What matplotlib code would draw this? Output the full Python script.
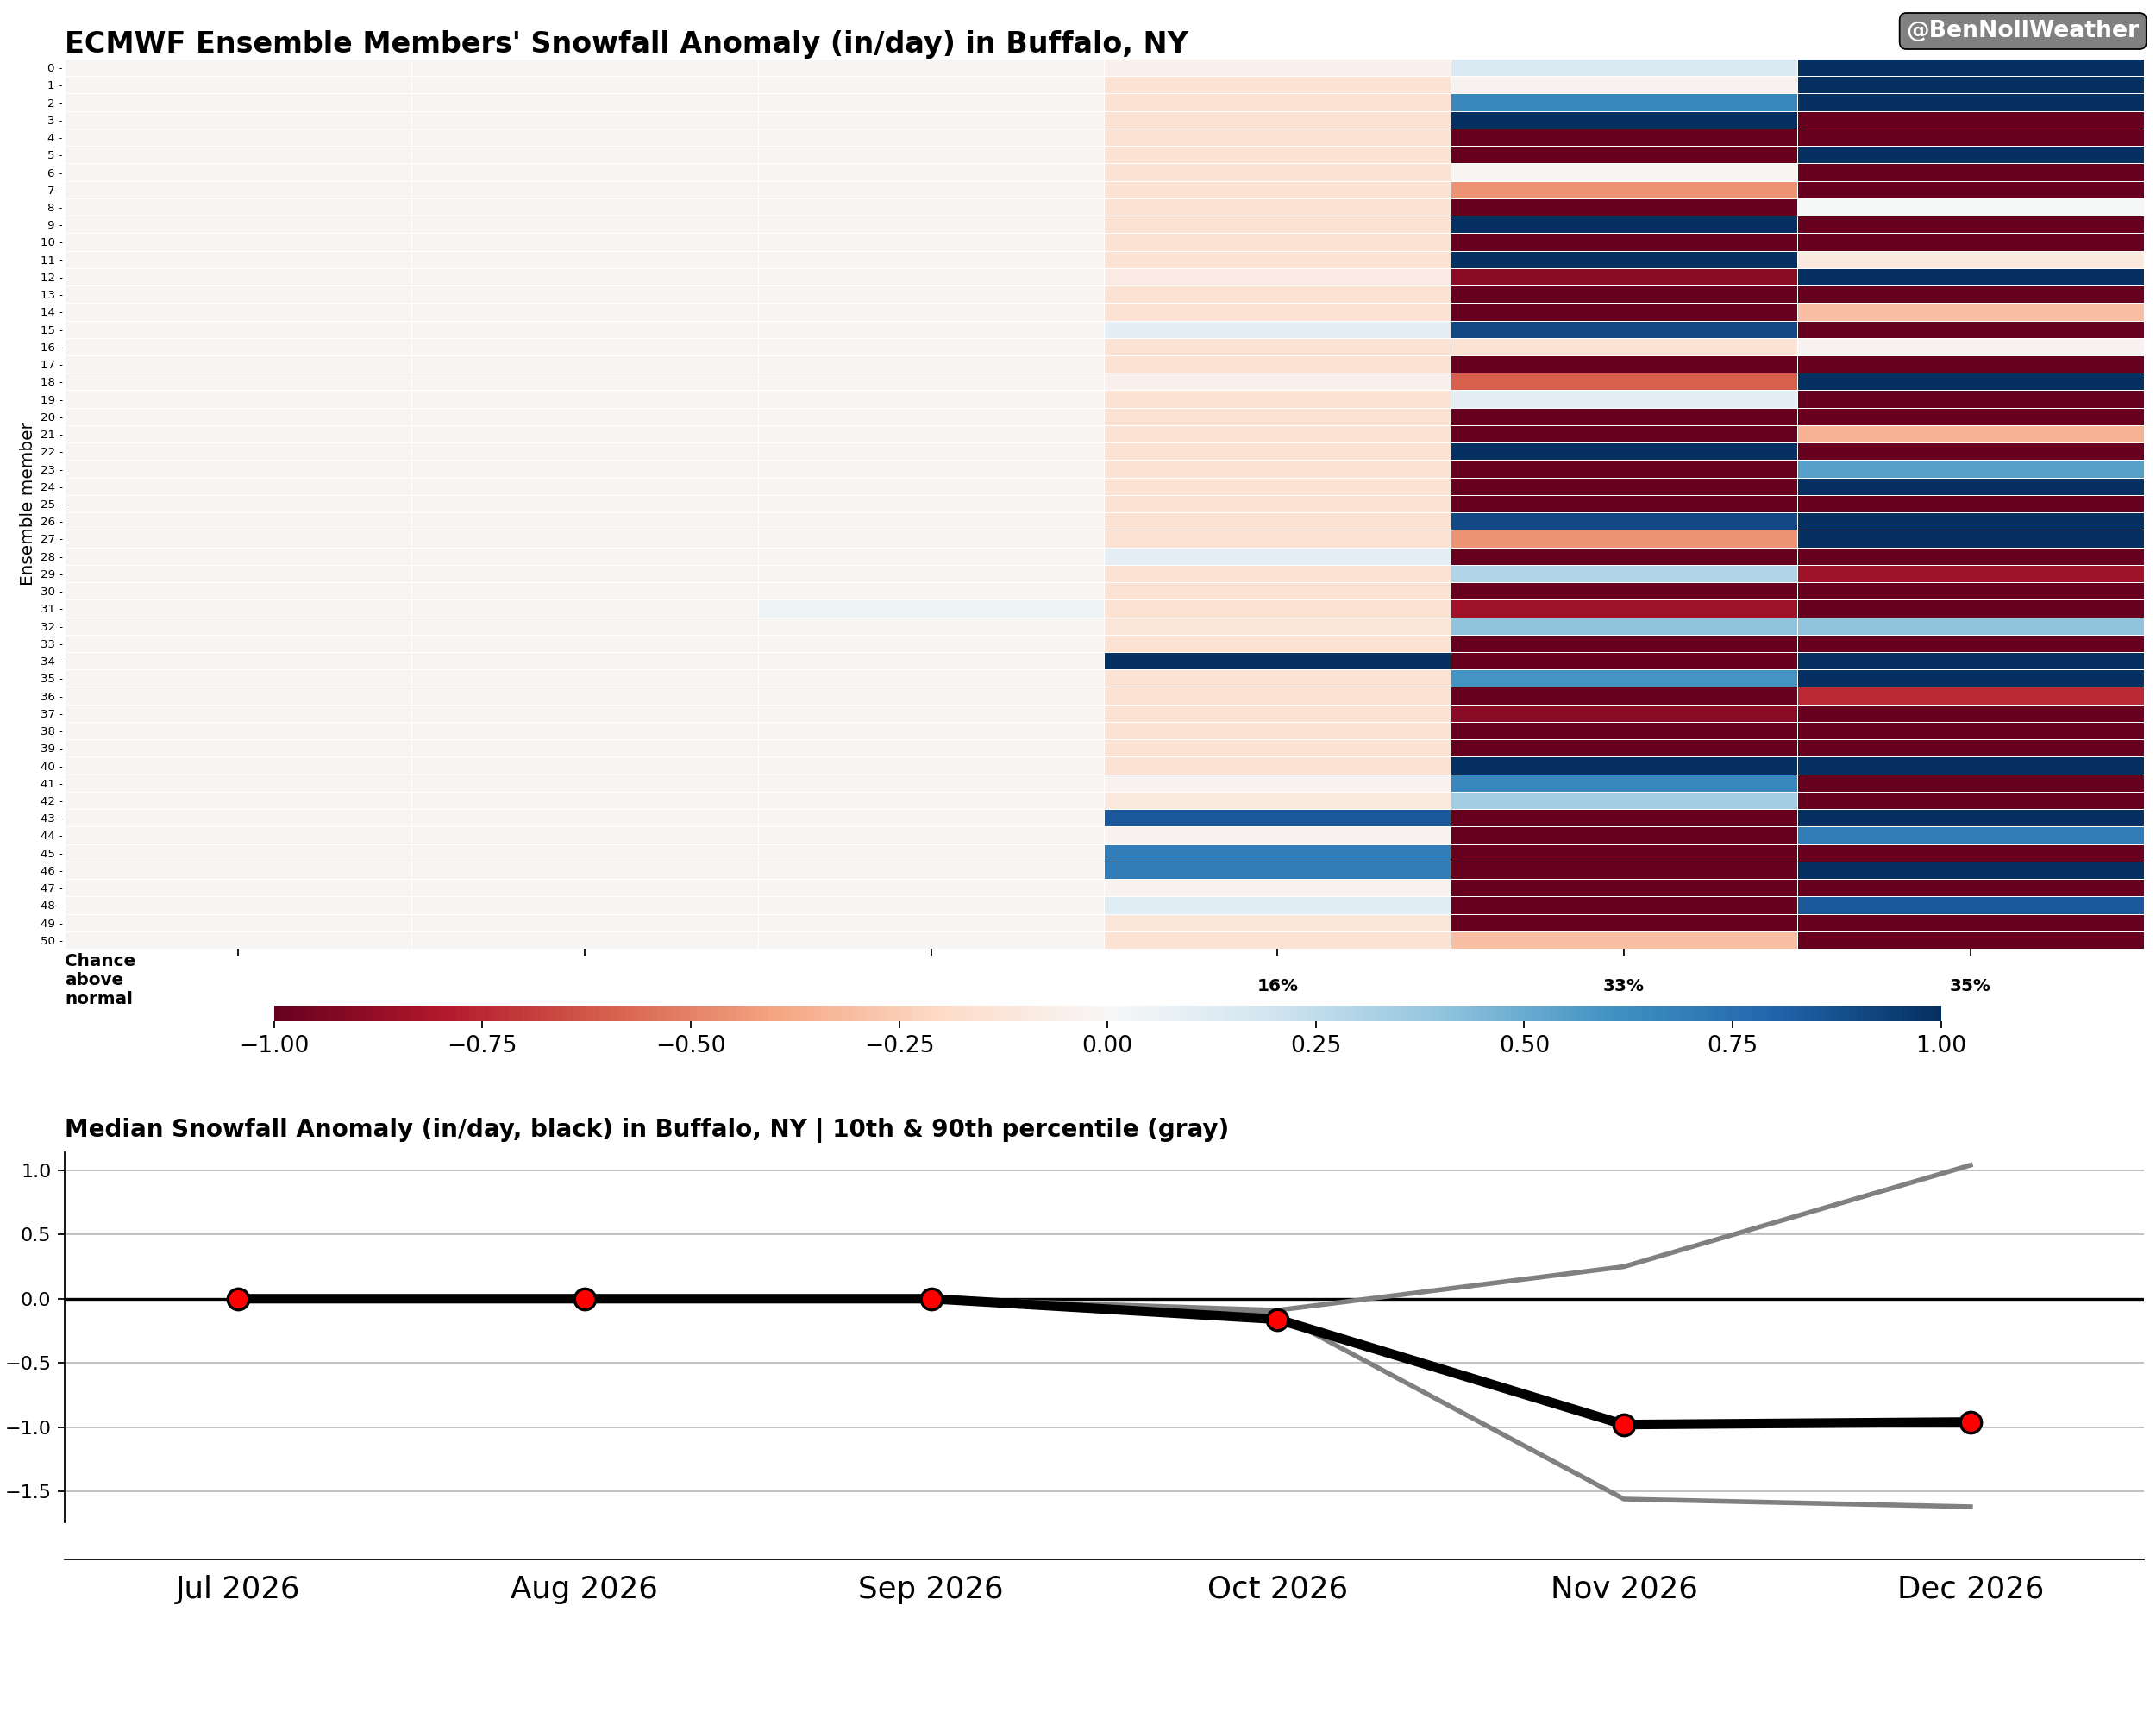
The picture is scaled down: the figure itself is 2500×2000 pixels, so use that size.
import numpy as np
import matplotlib.pyplot as plt

months = ["Jul 2026", "Aug 2026", "Sep 2026", "Oct 2026", "Nov 2026", "Dec 2026"]
chance = ["", "", "", "16%", "33%", "35%"]

jul = [-0.01] * 51
aug = [-0.01] * 51
sep = [-0.01] * 51
sep[31] = 0.05
oct_ = [-0.05, -0.15, -0.15, -0.15, -0.15, -0.15, -0.15, -0.15, -0.15, -0.15,
        -0.15, -0.15, -0.08, -0.15, -0.15, 0.1, -0.15, -0.15, -0.05, -0.15,
        -0.15, -0.15, -0.15, -0.15, -0.15, -0.15, -0.15, -0.15, 0.1, -0.15,
        -0.15, -0.15, -0.12, -0.15, 1.0, -0.15, -0.15, -0.15, -0.15, -0.15,
        -0.15, -0.03, -0.1, 0.85, -0.03, 0.7, 0.7, -0.03, 0.12, -0.12, -0.15]
nov = [0.15, -0.03, 0.65, 1, -1, -1, -0.02, -0.45, -1, 1,
       -1, 1, -0.9, -1, -1, 0.9, -0.15, -1, -0.6, 0.1,
       -1, -1, 1, -1, -1, -1, 0.9, -0.45, -1, 0.3,
       -1, -0.85, 0.4, -1, -1, 0.6, -1, -0.9, -1, -1,
       1, 0.65, 0.35, -1, -1, -1, -1, -1, -1, -1, -0.3]
dec = [1, 1, 1, -1, -1, 1, -1, -1, 0.0, -1,
       -1, -0.1, 1, -1, -0.3, -1, -0.03, -1, 1, -1,
       -1, -0.35, -1, 0.55, 1, -1, 1, 1, -1, -0.85,
       -1, -1, 0.4, -1, 1, 1, -0.75, -1, -1, -1,
       1, -1, -1, 1, 0.7, -1, 1, -1, 0.85, -1, -1]

median = [0, 0, 0, -0.16, -0.98, -0.96]
p10 = [0, 0, 0, -0.12, -1.56, -1.62]
p90 = [0, 0, 0, -0.09, 0.25, 1.04]

data = np.array([jul, aug, sep, oct_, nov, dec]).T
nmem = data.shape[0]

fig = plt.figure(figsize=(15.63, 12.5), dpi=160)

ax = fig.add_axes([0.03, 0.45, 0.964, 0.516])
mesh = ax.pcolormesh(np.arange(7), np.arange(nmem + 1), data, cmap="RdBu",
                     vmin=-1, vmax=1, edgecolor="white", linewidth=0.3)
ax.set_xlim(0, 6)
ax.set_ylim(nmem, 0)
ax.set_yticks(np.arange(nmem) + 0.5)
ax.set_yticklabels([f"{i} -" for i in range(nmem)], fontsize=6)
ax.tick_params(axis="y", length=0, pad=1)
ax.set_xticks(np.arange(6) + 0.5)
ax.set_xticklabels(chance, fontsize=9, fontweight="bold")
ax.tick_params(axis="x", pad=12)
for s in ax.spines.values():
    s.set_visible(False)
ax.set_ylabel("Ensemble member", fontsize=9, labelpad=2)
ax.set_title("ECMWF Ensemble Members' Snowfall Anomaly (in/day) in Buffalo, NY",
             fontsize=15, fontweight="bold", loc="left", pad=3)
ax.text(0.0, -0.005, "Chance\nabove\nnormal", transform=ax.transAxes, ha="left",
        va="top", fontsize=9, fontweight="bold")
fig.text(0.992, 0.982, "@BenNollWeather", ha="right", va="center", fontsize=12,
         fontweight="bold", color="white",
         bbox=dict(boxstyle="round,pad=0.3", fc="gray", ec="black", lw=0.8))

cax = fig.add_axes([0.127, 0.408, 0.773, 0.009])
cb = fig.colorbar(mesh, cax=cax, orientation="horizontal")
cb.set_ticks(np.arange(-1, 1.01, 0.25))
cb.ax.tick_params(labelsize=12)
cb.outline.set_visible(False)

ax2 = fig.add_axes([0.03, 0.096, 0.964, 0.236])
x = np.arange(6) + 0.5
ax2.axhline(0, color="black", lw=1.5)
ax2.plot(x, p10, color="gray", lw=2.5)
ax2.plot(x, p90, color="gray", lw=2.5)
ax2.plot(x, median, color="black", lw=5, marker="o", markersize=11,
         markerfacecolor="red", markeredgecolor="black", markeredgewidth=1.5, zorder=5)
ax2.set_xlim(0, 6)
ax2.set_ylim(-2.03, 1.14)
ax2.set_yticks([-1.5, -1.0, -0.5, 0.0, 0.5, 1.0])
ax2.tick_params(axis="y", labelsize=10)
ax2.grid(axis="y", color="#bbbbbb", lw=0.8)
ax2.set_xticks(x)
ax2.set_xticklabels(months, fontsize=16)
ax2.tick_params(axis="x", length=0, pad=8)
ax2.spines["top"].set_visible(False)
ax2.spines["right"].set_visible(False)
ax2.spines["left"].set_bounds(-1.74, 1.14)
ax2.set_title("Median Snowfall Anomaly (in/day, black) in Buffalo, NY | 10th & 90th percentile (gray)",
              fontsize=12.5, fontweight="bold", loc="left", pad=8)

fig.savefig("out.png", dpi=160)
